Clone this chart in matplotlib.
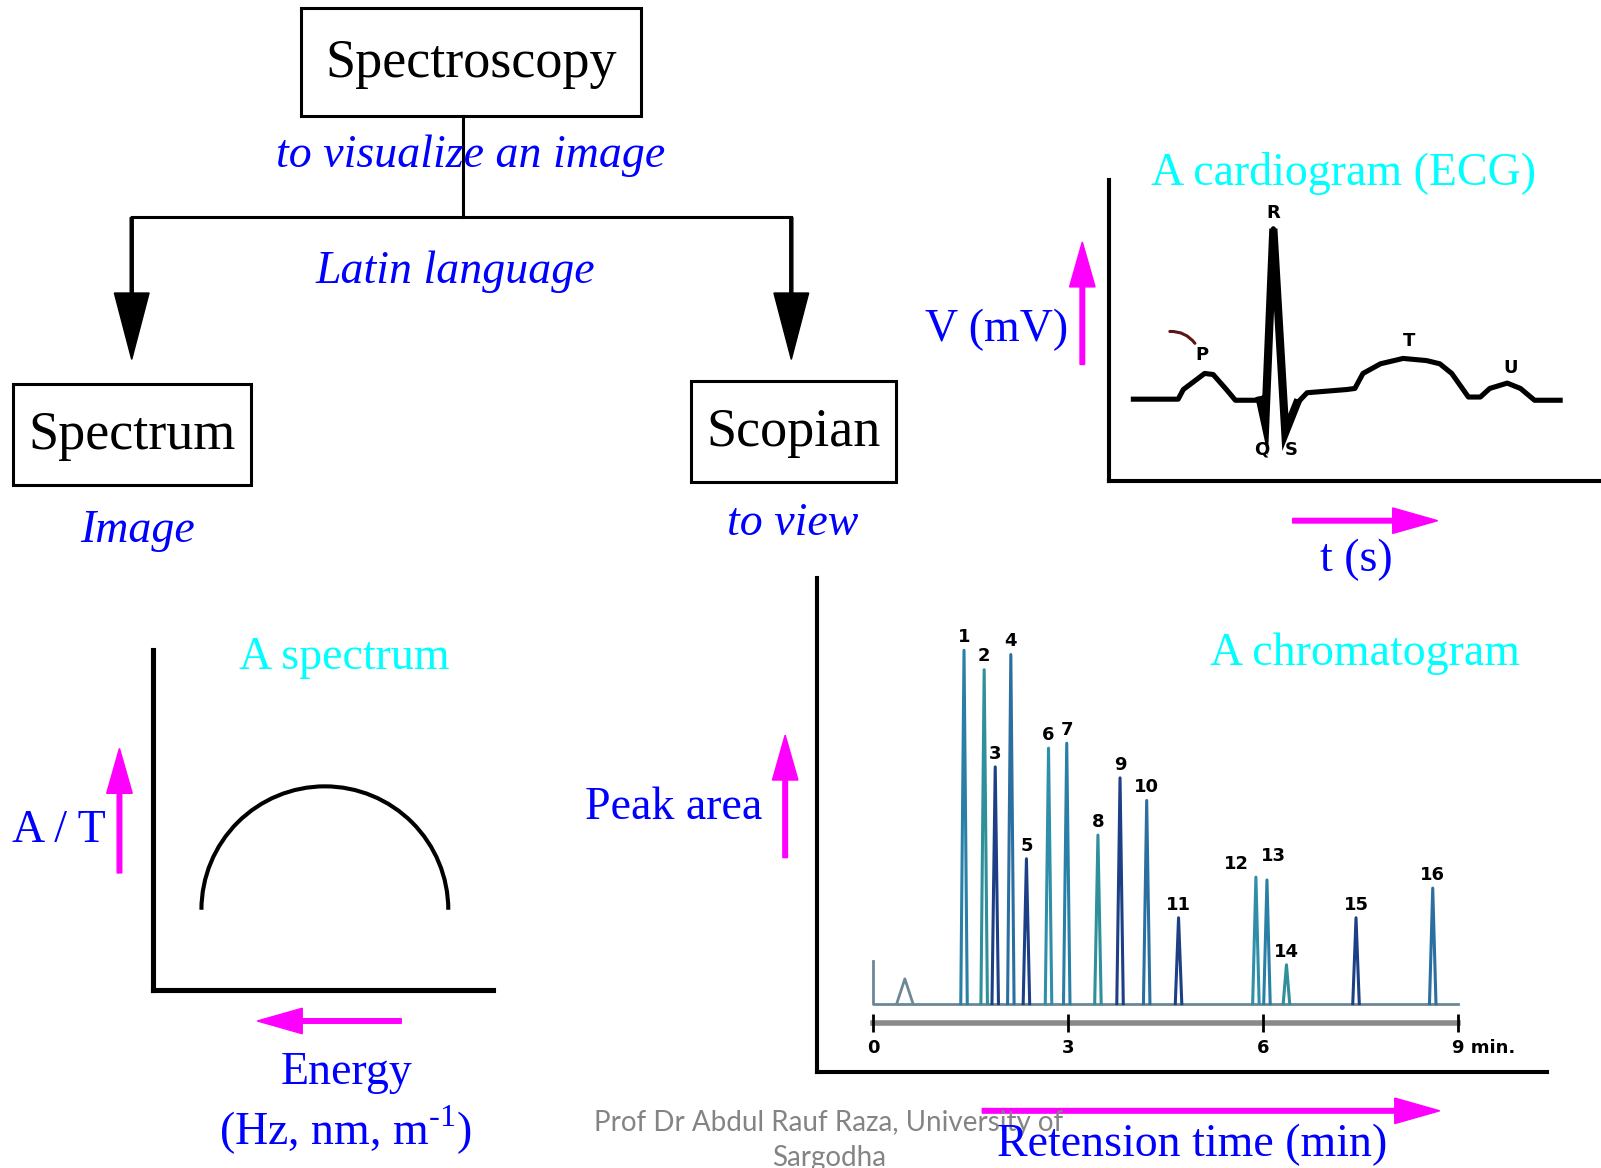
import matplotlib.pyplot as plt
from matplotlib.patches import Rectangle, Arc, FancyArrowPatch

# layout units = reference pixels / 1.021
W, H = 1568, 1144

# ECG trace: time (fraction of one beat) and voltage (mV)
ecg_t = [0, .105, .117, .167, .187, .218, .239, .297, .309, .328, .356, .383, .407,
         .500, .519, .538, .579, .632, .687, .718, .746, .785, .813, .835, .876, .907,
         .940, 1.0]
ecg_v = [0.01, 0.01, 0.10, 0.25, 0.24, 0.10, 0, 0, -0.22, 1.60, -0.30, -0.03, 0.07,
         0.10, 0.11, 0.25, 0.34, 0.39, 0.37, 0.34, 0.25, 0.03, 0.03, 0.11, 0.16, 0.11,
         0, 0]
ecg_labels = ['P', 'Q', 'R', 'S', 'T', 'U']
ecg_label_t = [.160, .301, .328, .371, .646, .883]
ecg_label_v = [.42, -.46, 1.75, -.46, .55, .30]

# chromatogram: retention time (min) and relative peak height
peak_no = [str(i) for i in range(1, 17)]
peak_time = [1.40, 1.71, 1.88, 2.12, 2.36, 2.70, 2.98, 3.46, 3.80, 4.21, 4.70,
             5.89, 6.06, 6.36, 7.43, 8.61]
peak_height = [100, 94.5, 67, 98.8, 41, 72.3, 73.7, 47.7, 63.9, 57.5, 24.3,
               35.8, 35, 11, 24.3, 32.7]
solvent_time, solvent_height = 0.49, 7
time_ticks = [0, 3, 6, 9]
time_labels = ['0', '3', '6', '9 min.']

BLUE, CYAN, MAG = '#0000FF', '#00FFFF', '#FF00FF'
SERIF = 'Liberation Serif'
PT = 0.735  # layout px -> points

plt.rcParams['mathtext.fontset'] = 'custom'
plt.rcParams['mathtext.rm'] = SERIF

fig = plt.figure(figsize=(16.01, 11.68), dpi=100)


def sub_axes(x0, y0, x1, y1):
    a = fig.add_axes([x0 / W, 1 - y1 / H, (x1 - x0) / W, (y1 - y0) / H])
    a.patch.set_visible(False)
    a.set_xticks([])
    a.set_yticks([])
    for s in ['top', 'right']:
        a.spines[s].set_visible(False)
    return a


# ---- spectrum sketch
ax_s = sub_axes(150, 637, 483, 970)
for s in ['left', 'bottom']:
    ax_s.spines[s].set_linewidth(5 * PT)
ax_s.set_xlim(0, 1)
ax_s.set_ylim(0, 1)
ax_s.add_patch(Arc((0.505, 0.237), 0.726, 0.726, theta1=0, theta2=180,
                   lw=4 * PT, color='black'))

# ---- ECG
ax_e = sub_axes(1086, 176, 1568, 471)
for s in ['left', 'bottom']:
    ax_e.spines[s].set_linewidth(4 * PT)
ax_e.set_xlim(-0.0574, 1.0957)
ax_e.set_ylim(-0.752, 2.057)
ax_e.plot(ecg_t, ecg_v, color='black', lw=5 * PT, solid_joinstyle='round')
ax_e.plot(ecg_t[7:12], ecg_v[7:12], color='black', lw=8 * PT, solid_joinstyle='miter')
for lab, t, v in zip(ecg_labels, ecg_label_t, ecg_label_v):
    ax_e.text(t, v, lab, ha='center', va='center', fontsize=13, fontweight='bold')
ax_e.add_patch(FancyArrowPatch((0.079, 0.64), (0.148, 0.51), arrowstyle='-',
                               connectionstyle='arc3,rad=-0.3', color='#5c1414',
                               lw=3 * PT))

# ---- chromatogram
ax_c = sub_axes(800, 566, 1515, 1050)
for s in ['left', 'bottom']:
    ax_c.spines[s].set_linewidth(4 * PT)
ax_c.set_xlim(-0.864, 10.366)
ax_c.set_ylim(-19.36, 120.5)
ax_c.plot([0, 0, 9], [12, 0, 0], color='#6d8796', lw=2)
dw = 0.05
ax_c.plot([solvent_time - 2.5 * dw, solvent_time, solvent_time + 2.5 * dw],
          [0, solvent_height, 0], color='#6d8796', lw=2)
pcols = ['#2a7fa6', '#2f8f9a', '#1c3f86', '#2a6fa0', '#1c3f86', '#2f8fa8']
for i, (t, h, n) in enumerate(zip(peak_time, peak_height, peak_no)):
    ax_c.plot([t - dw, t, t + dw], [0, h, 0], color=pcols[i % len(pcols)], lw=2.2)
    dx = {'12': -0.3, '13': 0.1}.get(n, 0)
    dy = {'13': 3}.get(n, 0)
    ax_c.text(t + dx, h + 1.2 + dy, n, ha='center', va='bottom', fontsize=13,
              fontweight='bold')
ax_c.plot([0, 9], [-5.5, -5.5], color='#8a8a8a', lw=4)
ax_c.vlines(time_ticks, -8, -3, color='black', lw=2)
for t, lab in zip(time_ticks, time_labels):
    ax_c.text(t - (0.1 if lab.endswith('.') else 0), -12.7, lab,
              ha='left' if lab.endswith('.') else 'center',
              va='center', fontsize=13, fontweight='bold')

# ---- overlay: boxes, tree, labels, arrows
ax = fig.add_axes([0, 0, 1, 1])
ax.patch.set_visible(False)
ax.set_xlim(0, W)
ax.set_ylim(H, 0)
ax.axis('off')

for (x0, y0, x1, y1), word in [((295, 8, 628, 114), 'Spectroscopy'),
                               ((13, 376, 246, 475), 'Spectrum'),
                               ((677, 373, 878, 472), 'Scopian')]:
    ax.add_patch(Rectangle((x0, y0), x1 - x0, y1 - y0, fill=False, lw=3 * PT,
                           ec='black'))
    ax.text((x0 + x1) / 2, (y0 + y1) / 2 + 1, word, ha='center', va='center',
            fontsize=39, family=SERIF)

ax.plot([453, 453], [114, 213], color='black', lw=3 * PT)
ax.plot([129, 775], [213, 213], color='black', lw=3 * PT)
for x in [129, 775]:
    ax.arrow(x, 213, 0, 139, width=3, head_width=34, head_length=65,
             length_includes_head=True, color='black')

italic = dict(ha='center', va='center', fontsize=33, family=SERIF, style='italic',
              color=BLUE)
ax.text(461, 153, 'to visualize an image', **italic)
ax.text(446, 266, 'Latin language', **italic)
ax.text(135, 520, 'Image', **italic)
ax.text(776, 513, 'to view', **italic)

plain = dict(ha='center', va='center', fontsize=33, family=SERIF)
ax.text(1316, 170, 'A cardiogram (ECG)', color=CYAN, **plain)
ax.text(337, 644, 'A spectrum', color=CYAN, **plain)
ax.text(1337, 640, 'A chromatogram', color=CYAN, **plain)
ax.text(976, 323, 'V (mV)', color=BLUE, **plain)
ax.text(1328, 548, 't (s)', color=BLUE, **plain)
ax.text(58, 814, 'A / T', color=BLUE, **plain)
ax.text(660, 791, 'Peak area', color=BLUE, **plain)
ax.text(339, 1051, 'Energy', color=BLUE, **plain)
ax.text(338, 1107, r'(Hz, nm, m$^{\mathregular{\u2010}1}$)'.replace('\\u2010', '\u2010'),
        color=BLUE, **plain)

ax.text(812, 1100, 'Prof Dr Abdul Rauf Raza, University of', ha='center',
        va='center', fontsize=20, family='Lato', color='#848484')
ax.text(812, 1134, 'Sargodha', ha='center', va='center', fontsize=20,
        family='Lato', color='#848484')
ax.text(1168, 1121, 'Retension time (min)', color=BLUE, **plain)

mag = dict(width=4.5, head_width=25, head_length=44, length_includes_head=True,
           color=MAG)
ax.arrow(1060, 357, 0, -120, **mag)
ax.arrow(1266, 510, 142, 0, **mag)
ax.arrow(117, 855, 0, -122, **mag)
ax.arrow(393, 1000, -141, 0, **mag)
ax.arrow(769, 840, 0, -120, **mag)
ax.arrow(962, 1088, 448, 0, **mag)

fig.savefig('out.png', dpi=100)
